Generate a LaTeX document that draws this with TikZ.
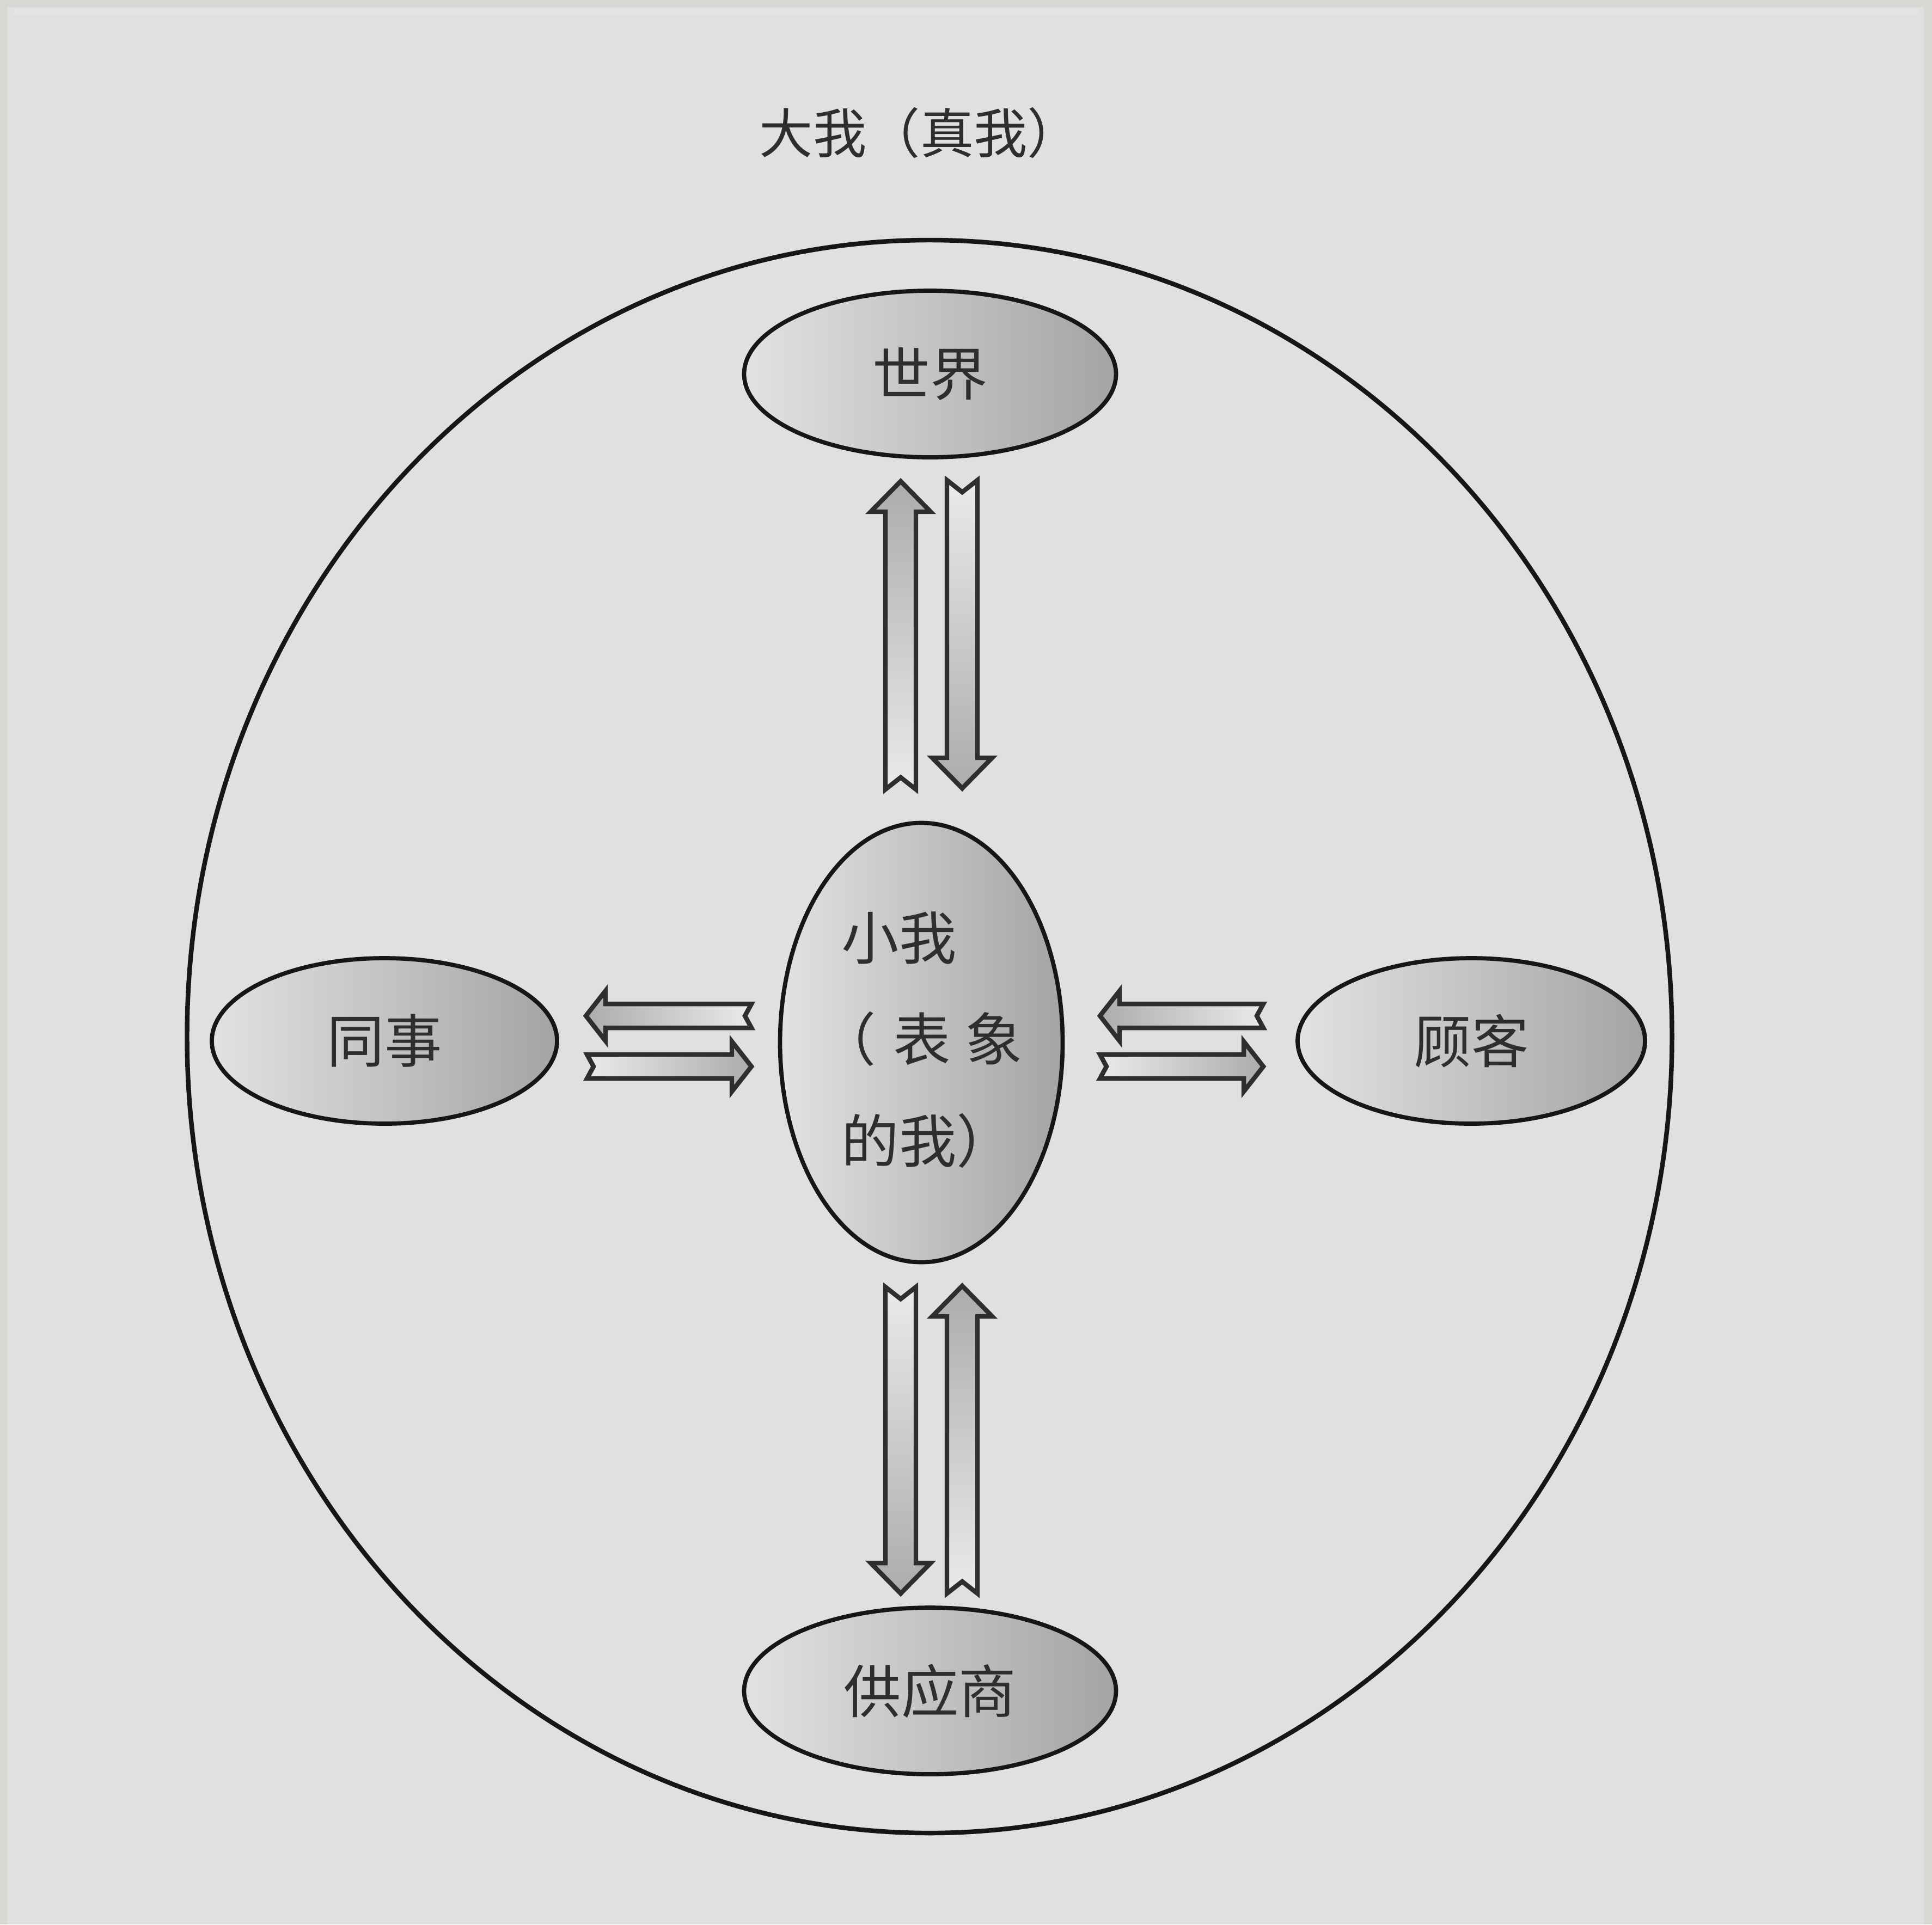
\documentclass[tikz,border=0pt]{standalone}
\usepackage{fontspec}
\newfontfamily\cjk{Noto Sans CJK SC}
\usetikzlibrary{shapes.geometric,calc}
\definecolor{bgC}{HTML}{E0E0E0}
\definecolor{edgeC}{HTML}{D7D8D3}
\definecolor{bandC}{HTML}{E4E4E2}
\definecolor{lineC}{HTML}{161616}
\definecolor{arrC}{HTML}{2E2E2E}
\definecolor{txtC}{HTML}{2E2E2E}
\definecolor{EllA}{HTML}{E2E2E2}
\definecolor{EllM}{HTML}{D0D0D0}
\definecolor{EllB}{HTML}{A4A4A4}
\definecolor{ArrLight}{HTML}{EAEAEA}
\definecolor{ArrDark}{HTML}{ACACAC}
\tikzset{
  ell/.style={ellipse, draw=lineC, line width=2.2pt, left color=EllA, middle color=EllM, right color=EllB,
    inner sep=0pt, text=txtC, font=\cjk\fontsize{30}{36}\selectfont},
  bigcirc/.style={ellipse, draw=lineC, line width=2.4pt, inner sep=0pt},
  fatarrowstyle/.style={draw=arrC, line width=2.4pt, line join=miter},
  titletext/.style={text=txtC, font=\cjk\fontsize{28}{34}\selectfont, inner sep=0pt},
  selftext/.style={text=txtC, font=\cjk\fontsize{30}{53}\selectfont, inner sep=0pt, align=left},
  upshade/.style={top color=ArrDark, bottom color=ArrLight},
  downshade/.style={top color=ArrLight, bottom color=ArrDark},
  leftshade/.style={left color=ArrDark, right color=ArrLight},
  rightshade/.style={left color=ArrLight, right color=ArrDark},
}
% #1 tail, #2 tip, #3 shaft half width, #4 head half width, #5 head length, #6 notch depth, #7 shading style
\newcommand\fatarrow[7]{%
  \coordinate (fabase) at ($(#2)!#5!(#1)$);
  \draw[fatarrowstyle,#7]
    ($(#1)!#3!90:(#2)$) -- ($(fabase)!#3!90:(#2)$) -- ($(fabase)!#4!90:(#2)$) -- (#2)
    -- ($(fabase)!#4!-90:(#2)$) -- ($(fabase)!#3!-90:(#2)$) -- ($(#1)!#3!-90:(#2)$)
    -- ($(#1)!#6!(#2)$) -- cycle;
}
\begin{document}
\begin{tikzpicture}
% background
\fill[bgC] (0,0) rectangle (35.48,-35.35);
\fill[edgeC] (0,0) rectangle (35.48,-0.13);
\fill[edgeC] (0,0) rectangle (0.14,-35.35);
\fill[edgeC] (35.33,0) rectangle (35.48,-35.35);
\fill[bandC] (0.26,-0.16) rectangle (35.23,-0.27);
\useasboundingbox (0,0) rectangle (35.48,-35.35);

% title
\node[titletext] (title) at (16.90,-2.44) {大我（真我）};

% big circle
\node[bigcirc, minimum width=27.27cm, minimum height=29.26cm] (outer) at (17.07,-19.04) {};

% ellipses
\node[ell, minimum width=6.83cm, minimum height=3.06cm] (world) at (17.08,-6.87) {世界};
\node[ell, minimum width=6.34cm, minimum height=3.04cm] (colleague) at (7.06,-19.12) {同事};
\node[ell, minimum width=6.38cm, minimum height=3.04cm] (customer) at (27.02,-19.12) {顾客};
\node[ell, minimum width=6.83cm, minimum height=3.06cm] (supplier) at (17.08,-31.06) {供应商};
\node[ell, minimum width=5.19cm, minimum height=8.07cm] (self) at (16.92,-19.15) {};
\node[selftext, anchor=west] (selflabel) at (15.45,-19.10)
      {小我\\\hspace*{-0.4em}（\hspace{0.3em}表\hspace{0.25em}象\\的我）};

% arrow end points
\coordinate (tUpTail) at (16.54,-14.50);
\coordinate (tUpTip) at (16.54,-8.84);
\coordinate (tDnTail) at (17.67,-8.82);
\coordinate (tDnTip) at (17.67,-14.48);

\coordinate (bDnTail) at (16.54,-23.64);
\coordinate (bDnTip) at (16.54,-29.27);
\coordinate (bUpTail) at (17.67,-29.27);
\coordinate (bUpTip) at (17.67,-23.62);

\coordinate (lLTail) at (13.80,-18.66);
\coordinate (lLTip) at (10.76,-18.66);
\coordinate (lRTail) at (10.78,-19.59);
\coordinate (lRTip) at (13.80,-19.59);

\coordinate (rLTail) at (23.20,-18.66);
\coordinate (rLTip) at (20.20,-18.66);
\coordinate (rRTail) at (20.20,-19.59);
\coordinate (rRTip) at (23.20,-19.59);

% arrows
\fatarrow{tUpTail}{tUpTip}{0.28cm}{0.55cm}{0.56cm}{0.22cm}{upshade}
\fatarrow{tDnTail}{tDnTip}{0.28cm}{0.55cm}{0.56cm}{0.22cm}{downshade}
\fatarrow{bDnTail}{bDnTip}{0.28cm}{0.55cm}{0.56cm}{0.22cm}{downshade}
\fatarrow{bUpTail}{bUpTip}{0.28cm}{0.55cm}{0.56cm}{0.22cm}{upshade}

\fatarrow{lLTail}{lLTip}{0.22cm}{0.46cm}{0.36cm}{0.12cm}{leftshade}
\fatarrow{lRTail}{lRTip}{0.22cm}{0.46cm}{0.36cm}{0.12cm}{rightshade}
\fatarrow{rLTail}{rLTip}{0.22cm}{0.46cm}{0.36cm}{0.12cm}{leftshade}
\fatarrow{rRTail}{rRTip}{0.22cm}{0.46cm}{0.36cm}{0.12cm}{rightshade}
\end{tikzpicture}
\end{document}
